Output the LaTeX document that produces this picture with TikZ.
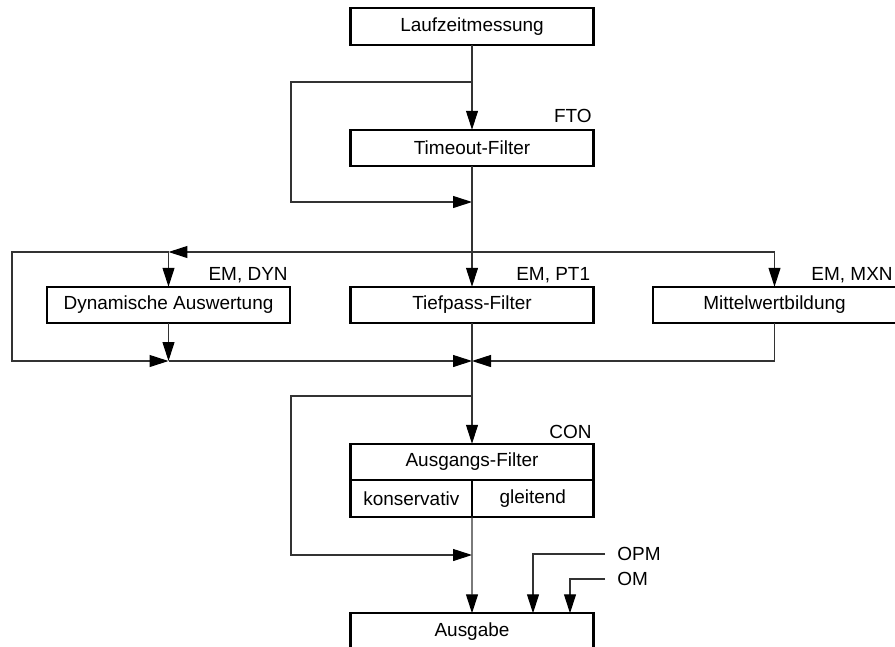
\documentclass[tikz,border=0pt]{standalone}
\usepackage{fontspec}
\setmainfont{Liberation Sans}
\usetikzlibrary{arrows.meta, positioning, calc}
\newcommand{\bypass}[3]
{
	\draw[feed] (#2) -- +(-#1,0) |- (#3)
}

\begin{document}
\begin{tikzpicture}[x=0.02cm, y=-0.02cm, every node/.append style={align=center, font=\fontsize{10.8}{12}\selectfont},
	block/.style={draw, line width=1.3pt, minimum width=4.86cm, minimum height=0.73cm, inner sep=0pt, outer sep=0pt},
	half/.style={block, minimum width=2.43cm},
	tag/.style={inner sep=0pt, anchor=base east},
	wire/.style={draw=black!80, line width=0.6pt},
	feed/.style={wire, -{Triangle[length=3.8mm, width=2.4mm, color=black]}}]
	\useasboundingbox (0,0) rectangle (895,646);
	% boxes
	\node[block] (lauf) at (472,26.5) {Laufzeitmessung};
	\node[block] (tmo) at (472,148) {Timeout-Filter};
	\node[block] (dyn) at (168.5,305) {Dynamische Auswertung};
	\node[block] (tief) at (472,305) {Tiefpass-Filter};
	\node[block] (mit) at (774.5,305) {Mittelwertbildung};
	\node[block] (ausg) at (472,462) {Ausgangs-Filter};
	\node[half, anchor=north west] (kons) at (ausg.south west) {konservativ};
	\node[half, anchor=north east] (gleit) at (ausg.south east) {gleitend};
	\node[block] (out) at (472,631.5) {Ausgabe};
	% tags
	\node[tag] (fto) at ([xshift=-0.03cm, yshift=0.14cm]tmo.north east) {FTO};
	\node[tag] (emdyn) at ([xshift=-0.04cm, yshift=0.13cm]dyn.north east) {EM, DYN};
	\node[tag] (empt) at ([xshift=-0.06cm, yshift=0.13cm]tief.north east) {EM, PT1};
	\node[tag] (emmxn) at ([xshift=-0.06cm, yshift=0.13cm]mit.north east) {EM, MXN};
	\node[tag] (con) at ([xshift=-0.03cm, yshift=0.10cm]ausg.north east) {CON};
	\node[anchor=west, inner xsep=0.24cm] (opm) at (605,554) {OPM};
	\node[anchor=west, inner xsep=0.24cm] (om) at (605,579) {OM};
	% junctions
	\coordinate (s1) at (472,82);
	\coordinate (j1) at (472,202);
	\coordinate (s2) at (472,252);
	\coordinate (j2) at (472,361);
	\coordinate (s3) at (472,396);
	\coordinate (j3) at (472,555);
	\coordinate (opmin) at ($(out.north)+(61,0)$);
	\coordinate (omin) at ($(out.north)+(98,0)$);
	% connectors
	\draw[feed] (lauf) -- (tmo);
	\bypass{181}{s1}{j1};
	\draw[wire] (tmo) -- (s2);
	\draw[feed] (s2) -- (tief);
	\draw[feed] (s2) -- (dyn.north |- s2);
	\draw[feed] (dyn.north |- s2) -- (dyn);
	\bypass{156.5}{dyn.north |- s2}{dyn.south |- j2};
	\draw[feed] (s2) -| (mit);
	\draw[feed] (dyn) -- (dyn.south |- j2);
	\draw[feed] (dyn.south |- j2) -- (j2);
	\draw[feed] (mit) |- (j2);
	\draw[wire] (tief) -- (s3);
	\draw[feed] (s3) -- (ausg);
	\bypass{181}{s3}{j3};
	\draw[feed] (kons.south east) -- (out);
	\draw[feed] (opm) -| (opmin);
	\draw[feed] (om) -| (omin);
\end{tikzpicture}
\end{document}
